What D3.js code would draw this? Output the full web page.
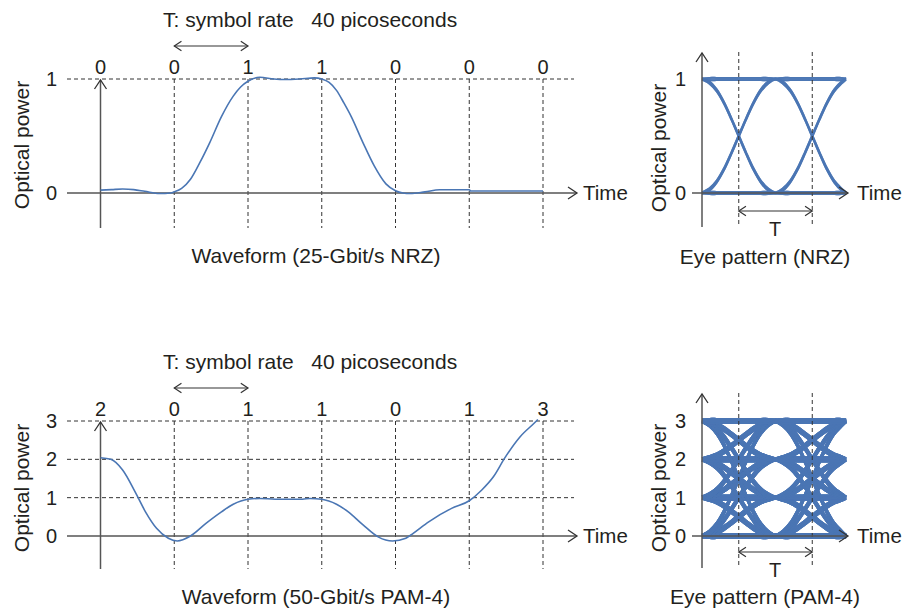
<!DOCTYPE html>
<html>
<head>
<meta charset="utf-8">
<script src="https://cdn.jsdelivr.net/npm/d3@7"></script>
<style>
  body { margin: 0; background: #fff; }
  text { font-family: "Liberation Sans", Arial, sans-serif; fill: #231f20; white-space: pre; }
</style>
</head>
<body>
<div class="body"></div>
<script>
// symbols shown above each waveform
const nrzSymbols = ["0", "0", "1", "1", "0", "0", "0"];
const pamSymbols = ["2", "0", "1", "1", "0", "1", "3"];

// waveform samples (time in symbol periods, power)
const nrzT = [0, 0.15, 0.3, 0.45, 0.6, 0.8, 0.95, 1.0, 1.1, 1.22, 1.35, 1.48, 1.64, 1.8, 1.9, 2.0, 2.16, 2.35, 2.5, 2.7, 2.9, 3.0, 3.1, 3.2, 3.3, 3.4, 3.56, 3.71, 3.87, 4.0, 4.1, 4.2, 4.4, 4.6, 5.0, 5.02, 6.0];
const nrzV = [0.025, 0.03, 0.035, 0.03, 0.015, -0.005, 0.0, 0.01, 0.04, 0.12, 0.27, 0.44, 0.67, 0.85, 0.93, 0.98, 1.015, 1.0, 0.995, 1.0, 1.01, 1.0, 0.97, 0.9, 0.79, 0.67, 0.44, 0.24, 0.08, 0.02, 0.0, -0.005, 0.01, 0.028, 0.028, 0.018, 0.018];

const pamT = [0, 0.14, 0.3, 0.48, 0.61, 0.76, 0.92, 1.04, 1.22, 1.43, 1.64, 1.8, 2.0, 2.16, 2.37, 2.74, 2.84, 3.0, 3.2, 3.36, 3.56, 3.77, 3.96, 4.14, 4.24, 4.45, 4.76, 5.0, 5.17, 5.33, 5.48, 5.69, 5.9, 5.93];
const pamV = [2.04, 2.0, 1.72, 1.11, 0.63, 0.2, -0.06, -0.13, 0.0, 0.33, 0.63, 0.83, 0.96, 0.98, 0.96, 0.96, 0.98, 0.96, 0.83, 0.63, 0.29, -0.03, -0.13, -0.06, 0.07, 0.37, 0.72, 0.92, 1.2, 1.55, 2.03, 2.59, 2.98, 3.04];

// eye diagrams: edge shape over one symbol period, levels and trace spread
const edgeShape = [0, 0.03, 0.1, 0.21, 0.35, 0.5, 0.65, 0.79, 0.9, 0.97, 1];
const nrzLevels = [0, 1];
const pamLevels = [0, 1, 2, 3];
const nrzSpread = [-0.012, 0, 0.012];
const pamSpread = [-0.06, -0.02, 0.02, 0.06];

const blue = "#4a76b4";

const svg = d3.select(".body").append("svg").attr("width", 903).attr("height", 610);

function chevron(x, y, dir, s) {
  s = s || 1;
  const a = 9 * s, b = 6 * s;
  let pts;
  if (dir === "up") pts = [[x - b, y + a], [x, y], [x + b, y + a]];
  if (dir === "right") pts = [[x - a, y - b], [x, y], [x - a, y + b]];
  if (dir === "left") pts = [[x + a, y - b], [x, y], [x + a, y + b]];
  return d3.line()(pts);
}

function doubleArrow(x1, x2, y) {
  svg.append("line").attr("x1", x1).attr("x2", x2).attr("y1", y).attr("y2", y)
    .attr("stroke", "#333").attr("stroke-width", 1.2);
  svg.append("path").attr("d", chevron(x1, y, "left", 0.8)).attr("fill", "none").attr("stroke", "#333").attr("stroke-width", 1.2);
  svg.append("path").attr("d", chevron(x2, y, "right", 0.8)).attr("fill", "none").attr("stroke", "#333").attr("stroke-width", 1.2);
}

function dashed(x1, y1, x2, y2) {
  svg.append("line").attr("x1", x1).attr("x2", x2).attr("y1", y1).attr("y2", y2)
    .attr("stroke", "#333").attr("stroke-width", 1).attr("stroke-dasharray", "4,3");
}

function axisArrows(x0, yTop, yBottom, xLeft, xRight, y0) {
  svg.append("line").attr("x1", x0).attr("x2", x0).attr("y1", yBottom).attr("y2", yTop)
    .attr("stroke", "#555").attr("stroke-width", 1.5);
  svg.append("path").attr("d", chevron(x0, yTop, "up")).attr("fill", "none").attr("stroke", "#333").attr("stroke-width", 1.3);
  svg.append("line").attr("x1", xLeft).attr("x2", xRight).attr("y1", y0).attr("y2", y0)
    .attr("stroke", "#555").attr("stroke-width", 1.5);
  svg.append("path").attr("d", chevron(xRight, y0, "right")).attr("fill", "none").attr("stroke", "#333").attr("stroke-width", 1.3);
}

function label(x, y, txt, size, anchor) {
  return svg.append("text").attr("x", x).attr("y", y).attr("font-size", size)
    .attr("text-anchor", anchor || "start").text(txt);
}

function yTitle(x, y) {
  svg.append("text").attr("transform", `translate(${x},${y}) rotate(-90)`)
    .attr("font-size", 21).attr("text-anchor", "middle").text("Optical power");
}

// ---------- waveform panels ----------
function waveform(cfg) {
  const x = d3.scaleLinear().domain([0, 6]).range([100.5, 543]);
  const y = d3.scaleLinear().domain([0, cfg.maxLevel]).range([cfg.y0, cfg.yTop]);

  // grid
  d3.range(1, cfg.maxLevel + 1).forEach(l => dashed(67, y(l), 574, y(l)));
  d3.range(1, 7).forEach(k => dashed(x(k), y(cfg.maxLevel), x(k), cfg.yBottom));

  axisArrows(x(0), y(cfg.maxLevel) + 1, cfg.yBottom, 67, 577, y(0));
  label(583, y(0) + 7, "Time", 20.5);

  d3.range(0, cfg.maxLevel + 1).forEach(l => label(57, y(l) + 7, String(l), 20, "end"));
  yTitle(29, cfg.titleY);

  cfg.symbols.forEach((s, i) => label(x(i), y(cfg.maxLevel) - 5, s, 20, "middle"));

  label(163, cfg.yTop - 52, "T: symbol rate   40 picoseconds", 21);
  doubleArrow(x(1), x(2), cfg.yTop - 33);

  const pts = cfg.t.map((t, i) => [t, cfg.v[i]]);
  svg.append("path")
    .attr("d", d3.line().x(d => x(d[0])).y(d => y(d[1])).curve(d3.curveMonotoneX)(pts))
    .attr("fill", "none").attr("stroke", blue).attr("stroke-width", 1.6);

  label(316, cfg.captionY, cfg.caption, 21, "middle");
}

waveform({ maxLevel: 1, y0: 193, yTop: 79, yBottom: 228, titleY: 145, symbols: nrzSymbols,
  t: nrzT, v: nrzV, caption: "Waveform (25-Gbit/s NRZ)", captionY: 263 });
waveform({ maxLevel: 3, y0: 536, yTop: 421, yBottom: 569, titleY: 488, symbols: pamSymbols,
  t: pamT, v: pamV, caption: "Waveform (50-Gbit/s PAM-4)", captionY: 604 });

// ---------- eye diagrams ----------
function eye(cfg) {
  const x = d3.scaleLinear().domain([0, 2]).range([702, 849]);
  const maxL = cfg.levels[cfg.levels.length - 1];
  const y = d3.scaleLinear().domain([0, maxL]).range([cfg.y0, cfg.yTop]);

  // every three-symbol sequence, drawn with a small spread in level
  const seqs = [];
  cfg.levels.forEach(a => cfg.levels.forEach(b => cfg.levels.forEach(c => seqs.push([a, b, c]))));
  const n = edgeShape.length - 1;
  const g = svg.append("g");
  seqs.forEach(s => {
    cfg.spread.forEach(d => {
      const pts = [];
      for (let seg = 0; seg < 2; seg++) {
        edgeShape.forEach((e, i) => {
          if (seg === 1 && i === 0) return;
          const off = (i === 0 || i === n) ? d * 0.6 : d;
          pts.push([seg + i / n, s[seg] + (s[seg + 1] - s[seg]) * e + off]);
        });
      }
      pts[pts.length - 1][0] = 1.96;
      g.append("path")
        .attr("d", d3.line().x(p => x(p[0])).y(p => y(p[1])).curve(d3.curveCatmullRom)(pts))
        .attr("fill", "none").attr("stroke", blue).attr("stroke-width", cfg.lineWidth).attr("stroke-opacity", 0.9);
    });
  });

  dashed(x(0.5), cfg.yAxisTop - 1, x(0.5), cfg.yBottom);
  dashed(x(1.5), cfg.yAxisTop - 1, x(1.5), cfg.yBottom);
  axisArrows(702, cfg.yAxisTop, cfg.yBottom, 692, 848, y(0));
  label(857, y(0) + 7, "Time", 20.5);
  cfg.levels.forEach(l => label(686, y(l) + 7, String(l), 20, "end"));
  yTitle(666, cfg.titleY);

  doubleArrow(x(0.5), x(1.5), cfg.tY);
  label(775, cfg.tY + 25, "T", 20, "middle");
  label(765, cfg.captionY, cfg.caption, 21, "middle");
}

eye({ levels: nrzLevels, spread: nrzSpread, lineWidth: 1.5, y0: 193, yTop: 79, yAxisTop: 53, yBottom: 227, titleY: 148, tY: 211,
  caption: "Eye pattern (NRZ)", captionY: 264 });
eye({ levels: pamLevels, spread: pamSpread, lineWidth: 1.6, y0: 536, yTop: 421, yAxisTop: 394, yBottom: 568, titleY: 488, tY: 552,
  caption: "Eye pattern (PAM-4)", captionY: 604 });
</script>
</body>
</html>
